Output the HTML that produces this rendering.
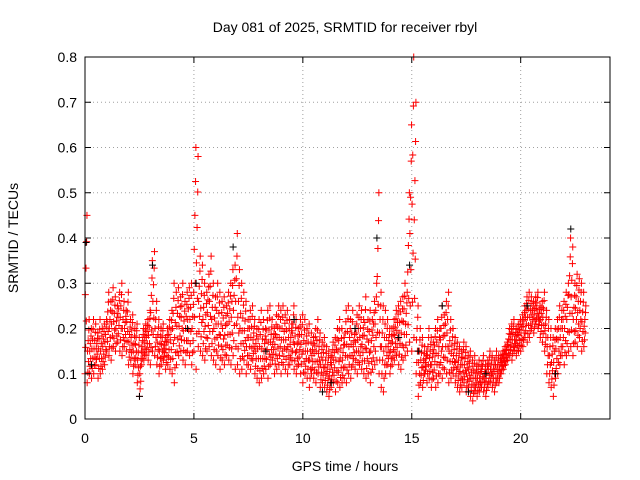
<!DOCTYPE html>
<html><head><meta charset="utf-8"><style>
body{margin:0;background:#fff}
svg{display:block;font-family:"Liberation Sans",sans-serif}
</style></head><body>
<svg id="chart" width="640" height="480" viewBox="0 0 640 480">
<rect width="640" height="480" fill="#fff"/>
<text x="345" y="32" font-size="14" text-anchor="middle">Day 081 of 2025, SRMTID for receiver rbyl</text>
<text x="345" y="471" font-size="14" text-anchor="middle">GPS time / hours</text>
<text transform="translate(18,238) rotate(-90)" font-size="14" text-anchor="middle">SRMTID / TECUs</text>
<g id="grid"></g>
<g id="marks"></g>
<g id="axes"></g>
<rect x="85" y="57" width="525" height="362" fill="none" stroke="#000" stroke-width="1"/>
</svg>
<script>
const xTicks=[0,5,10,15,20];
const yTicks=[0,0.1,0.2,0.3,0.4,0.5,0.6,0.7,0.8];
const yTickLabels=["0","0.1","0.2","0.3","0.4","0.5","0.6","0.7","0.8"];
const binStep=0.1;
const redHi=[.45,.22,.2,.22,.21,.19,.22,.2,.21,.22,
.28,.26,.29,.27,.25,.28,.3,.26,.24,.28,
.22,.23,.2,.21,.18,.15,.2,.21,.22,.24,
.35,.37,.26,.22,.2,.21,.18,.2,.22,.24,
.3,.28,.29,.27,.3,.26,.28,.29,.3,.28,
.6,.58,.36,.34,.3,.28,.32,.36,.3,.27,
.3,.28,.26,.27,.25,.28,.3,.33,.34,.41,
.33,.3,.28,.26,.22,.24,.25,.22,.2,.22,
.24,.22,.2,.24,.25,.22,.2,.23,.25,.24,
.25,.23,.24,.22,.21,.25,.22,.2,.22,.23,
.22,.2,.21,.19,.18,.2,.22,.19,.17,.18,
.16,.15,.14,.17,.18,.2,.22,.2,.18,.24,
.25,.22,.24,.2,.23,.25,.24,.22,.27,.22,
.24,.22,.26,.3,.5,.28,.25,.24,.22,.2,
.2,.22,.24,.25,.26,.27,.3,.28,.5,.65,
.8,.7,.25,.2,.18,.16,.15,.2,.18,.17,
.2,.22,.2,.25,.23,.26,.28,.22,.2,.18,
.17,.16,.15,.17,.16,.14,.15,.13,.14,.12,
.13,.12,.14,.12,.13,.15,.14,.13,.15,.14,
.14,.15,.16,.17,.2,.21,.22,.2,.21,.22,
.23,.25,.27,.28,.27,.26,.27,.28,.25,.26,
.28,.24,.22,.2,.18,.2,.22,.25,.24,.26,
.28,.3,.4,.38,.3,.32,.31,.3,.28,.25];
const redLo=[.1,.08,.1,.09,.1,.12,.09,.1,.11,.12,
.15,.14,.13,.16,.15,.17,.15,.14,.16,.15,
.12,.13,.1,.12,.08,.05,.12,.13,.14,.13,
.12,.15,.14,.12,.1,.12,.13,.11,.12,.11,
.1,.08,.12,.14,.15,.13,.12,.15,.14,.12,
.15,.11,.16,.15,.14,.13,.15,.16,.14,.13,
.12,.14,.11,.13,.12,.14,.13,.12,.14,.11,
.12,.1,.11,.13,.1,.12,.11,.13,.1,.09,
.08,.09,.1,.11,.09,.12,.13,.1,.11,.12,
.1,.12,.11,.1,.12,.13,.11,.1,.12,.1,
.08,.1,.09,.07,.1,.09,.08,.1,.07,.08,
.07,.06,.05,.07,.08,.06,.08,.07,.08,.09,
.08,.1,.09,.12,.11,.1,.12,.11,.1,.09,
.1,.08,.11,.12,.13,.1,.07,.06,.1,.12,
.1,.12,.13,.14,.12,.11,.13,.14,.15,.17,
.15,.18,.1,.05,.08,.07,.1,.08,.09,.07,
.09,.07,.08,.1,.09,.11,.1,.08,.09,.1,
.08,.07,.06,.07,.08,.06,.07,.05,.04,.06,
.05,.06,.07,.06,.05,.07,.08,.07,.06,.08,
.08,.1,.11,.12,.13,.14,.13,.15,.14,.15,
.15,.16,.18,.17,.18,.2,.19,.21,.2,.18,
.17,.15,.1,.08,.07,.05,.09,.1,.12,.14,
.12,.14,.15,.16,.14,.17,.16,.18,.15,.16];
const blackT=[0.05,0.3,2.5,3.1,4.7,5.1,6.8,8.3,9.6,10.9,11.3,12.4,13.4,14.4,14.9,15.3,16.4,17.6,18.4,20.3,21.6,22.3];
const blackV=[0.39,0.12,0.05,0.34,0.2,0.3,0.38,0.15,0.22,0.06,0.08,0.2,0.4,0.18,0.34,0.15,0.25,0.06,0.1,0.25,0.1,0.42];

const X0=85,X1=610,Y0=419,Y1=57,XMAX=24.1,YMAX=0.8;
const xs=v=>X0+v/XMAX*(X1-X0);
const ys=v=>Y0-v/YMAX*(Y0-Y1);
const NS="http://www.w3.org/2000/svg";
function mk(tag,attrs,parent){const e=document.createElementNS(NS,tag);for(const k in attrs)e.setAttribute(k,attrs[k]);parent.appendChild(e);return e;}
const grid=document.getElementById('grid'),axes=document.getElementById('axes'),marks=document.getElementById('marks');
yTicks.forEach((t,i)=>{
  const y=ys(t);
  if(i>0&&i<yTicks.length-1){const g=mk('line',{x1:X0,x2:X1,y1:y,y2:y,stroke:'#a0a0a0','stroke-dasharray':'1,3'},grid);
  
  }
  mk('line',{x1:X0,x2:X0+6,y1:y,y2:y,stroke:'#000'},axes);
  mk('line',{x1:X1,x2:X1-6,y1:y,y2:y,stroke:'#000'},axes);
  const tx=mk('text',{x:X0-8,y:y+5,'font-size':14,'text-anchor':'end'},axes);
  tx.textContent=yTickLabels[i];
  
  
});
xTicks.forEach(t=>{
  const x=xs(t);
  if(t>0){const g=mk('line',{x1:x,x2:x,y1:Y0,y2:Y1,stroke:'#a0a0a0','stroke-dasharray':'1,3'},grid);
  
  }
  mk('line',{x1:x,x2:x,y1:Y0,y2:Y0-6,stroke:'#000'},axes);
  mk('line',{x1:x,x2:x,y1:Y1,y2:Y1+6,stroke:'#000'},axes);
  const tx=mk('text',{x:x,y:Y0+24,'font-size':14,'text-anchor':'middle'},axes);
  tx.textContent=String(t);
  
  
});
function plus(x,y,c){
  const p=mk('path',{d:`M${x-3.5},${y}h7M${x},${y-3.5}v7`,stroke:c,'stroke-width':1,fill:'none'},marks);
  
  
}
const offs=[0,0.3,0.6,0.15,0.45,0.75,0.9];
redHi.forEach((hi,i)=>{
  const lo=redLo[i],t=i*binStep;
  const n=7;
  for(let k=0;k<n;k++){
    const v=lo+(hi-lo)*k/(n-1);
    plus(xs(t+binStep*offs[k]),ys(v),'#ff0000');
  }
});
blackT.forEach((t,i)=>plus(xs(t),ys(blackV[i]),'#000'));
</script>
</body></html>
